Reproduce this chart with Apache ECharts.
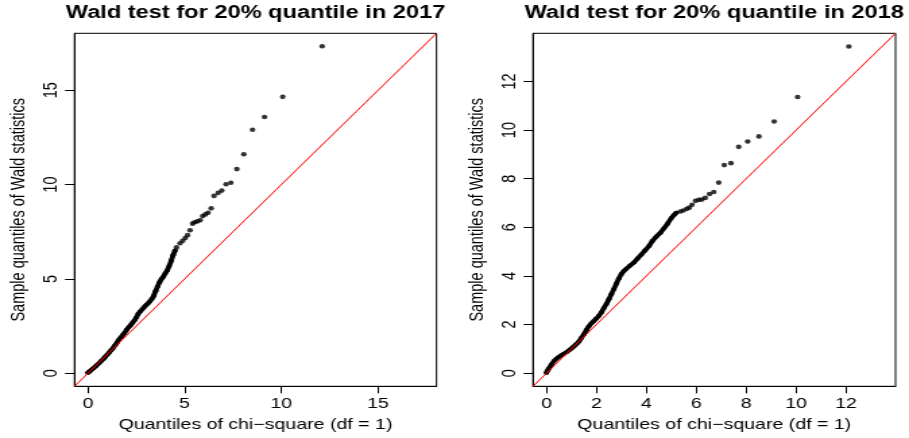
<!DOCTYPE html>
<html><head><meta charset="utf-8">
<script src="https://cdn.jsdelivr.net/npm/echarts@6/dist/echarts.min.js"></script>
<style>
html,body{margin:0;padding:0;background:#fff;overflow:hidden;}
#wrap{width:909px;height:438px;overflow:hidden;}
#chart{width:674px;height:438px;transform:scaleX(1.348665);transform-origin:0 0;}
</style></head><body><div id="wrap"><div id="chart"></div></div>
<script>
// ---- data ----
const titles = ["Wald test for 20% quantile in 2017", "Wald test for 20% quantile in 2018"];
const xName = "Quantiles of chi\u2212square (df = 1)";
const yName = "Sample quantiles of Wald statistics";
const leftTicks = [0, 5, 10, 15];
const rightTicks = [0, 2, 4, 6, 8, 10, 12];
const leftRange = [-0.693, 18.02];
const rightRange = [-0.538, 13.98];

// 2017 panel: theoretical quantiles (x) and sample quantiles (y)
const leftX = [0.00,0.05,0.1,0.2,0.3,0.4,0.5,0.6,0.7,0.8,0.9,1.0,1.1,1.2,1.3,1.4,1.5,1.6,1.7,1.8,1.9,2.0,2.1,2.2,2.3,2.4,2.5,2.6,2.7,2.8,2.9,3.0,3.1,3.2,3.3,3.4,3.5,3.6,3.7,3.8,3.9,4.0,4.1,4.2,4.3,4.4,4.5,
  4.58,4.76,4.90,5.03,5.15,5.28,5.41,5.52,5.66,5.80,5.93,6.07,6.21,6.37,6.52,6.73,6.92,7.14,7.39,7.70,8.06,8.51,9.13,10.07,12.11];
const leftY = [0.02,0.06,0.1,0.2,0.28,0.37,0.46,0.56,0.66,0.76,0.88,0.98,1.1,1.22,1.34,1.48,1.62,1.78,1.9,2.02,2.15,2.3,2.42,2.54,2.66,2.8,2.95,3.15,3.27,3.38,3.5,3.6,3.7,3.8,3.93,4.1,4.35,4.6,4.82,5.0,5.12,5.3,5.45,5.68,5.95,6.25,6.5,
  6.67,6.89,7.02,7.17,7.32,7.58,7.93,8.00,8.05,8.11,8.33,8.42,8.51,8.74,9.40,9.56,9.68,10.02,10.10,10.82,11.61,12.91,13.58,14.65,17.33];
const leftDenseCount = 47;

// 2018 panel
const rightX = [0.00,0.05,0.1,0.2,0.3,0.4,0.5,0.6,0.7,0.8,0.9,1.0,1.1,1.2,1.3,1.4,1.5,1.6,1.7,1.8,1.9,2.0,2.1,2.2,2.3,2.4,2.5,2.6,2.7,2.8,2.9,3.0,3.1,3.2,3.35,3.5,3.65,3.8,3.95,4.1,4.25,4.4,4.55,4.7,4.85,5.0,5.1,5.2,
  5.36,5.48,5.62,5.72,5.83,5.97,6.10,6.22,6.36,6.53,6.70,6.90,7.12,7.39,7.70,8.06,8.51,9.12,10.06,12.11];
const rightY = [0.02,0.12,0.2,0.36,0.5,0.6,0.68,0.74,0.8,0.86,0.93,1.02,1.1,1.2,1.3,1.45,1.6,1.78,1.93,2.05,2.15,2.25,2.36,2.5,2.68,2.85,3.04,3.25,3.46,3.68,3.9,4.08,4.2,4.3,4.43,4.55,4.72,4.88,5.05,5.22,5.45,5.62,5.76,5.95,6.15,6.38,6.5,6.6,
  6.65,6.69,6.76,6.81,6.93,7.09,7.13,7.14,7.21,7.37,7.45,7.84,8.56,8.64,9.31,9.53,9.74,10.35,11.36,13.44];
const rightDenseCount = 48;

// ---- chart ----
const S = 909 / 674;
const FONT = "Liberation Sans, Arial, Helvetica, sans-serif";
function pairs(xs, ys, a, b) { const out = []; for (let i = a; i < b; i++) out.push([xs[i], ys[i]]); return out; }

function axisX(idx, range, ticks) {
  return {
    type: 'value', gridIndex: idx, min: range[0], max: range[1], position: 'bottom',
    axisLine: { show: true, onZero: false, lineStyle: { color: '#000', width: 1 } },
    axisTick: { show: true, customValues: ticks, length: 7, lineStyle: { color: '#000', width: 1 } },
    axisLabel: { customValues: ticks, fontSize: 14.5, color: '#000', fontFamily: FONT, margin: 10 },
    splitLine: { show: false },
    name: xName, nameLocation: 'middle', nameGap: 31,
    nameTextStyle: { fontSize: 14.5, color: '#000', fontFamily: FONT }
  };
}
function axisY(idx, range, ticks) {
  return {
    type: 'value', gridIndex: idx, min: range[0], max: range[1], position: 'left',
    axisLine: { show: true, onZero: false, lineStyle: { color: '#000', width: 1 } },
    axisTick: { show: true, customValues: ticks, length: 7, lineStyle: { color: '#000', width: 1 } },
    axisLabel: { customValues: ticks, fontSize: 14.5, color: '#000', fontFamily: FONT, margin: 10, rotate: 90 },
    splitLine: { show: false },
    name: yName, nameLocation: 'middle', nameGap: 34,
    nameTextStyle: { fontSize: 14.5, color: '#000', fontFamily: FONT }
  };
}
function panelSeries(idx, xs, ys, dense, range) {
  return [
    { type: 'line', xAxisIndex: idx, yAxisIndex: idx, data: pairs(xs, ys, 0, dense),
      symbol: 'circle', symbolSize: 4, showSymbol: true, itemStyle: { color: '#000' },
      lineStyle: { color: '#000', width: 3.8, cap: 'round', join: 'round' }, z: 2, silent: true, animation: false },
    { type: 'scatter', xAxisIndex: idx, yAxisIndex: idx, data: pairs(xs, ys, dense, xs.length),
      symbol: 'circle', symbolSize: [4.2, 4.6], itemStyle: { color: '#000' }, z: 2, silent: true, animation: false },
    { type: 'line', xAxisIndex: idx, yAxisIndex: idx, data: [[range[0], range[0]], [range[1], range[1]]],
      symbol: 'none', lineStyle: { color: '#ff0000', width: 1 }, z: 3, silent: true, animation: false }
  ];
}

const chart = echarts.init(document.getElementById('chart'));
chart.setOption({
  backgroundColor: '#fff',
  animation: false,
  title: [
    { text: titles[0], left: (74.5 + 362 / 2) / S, top: 4, textAlign: 'center', textVerticalAlign: 'top', padding: 0,
      textStyle: { fontSize: 17.5, fontWeight: 'bold', color: '#000', fontFamily: FONT } },
    { text: titles[1], left: (533 + 362.5 / 2) / S, top: 4, textAlign: 'center', textVerticalAlign: 'top', padding: 0,
      textStyle: { fontSize: 17.5, fontWeight: 'bold', color: '#000', fontFamily: FONT } }
  ],
  grid: [
    { left: 74.5 / S, top: 33.3, width: 362 / S, height: 353, show: true, borderColor: '#000', borderWidth: 1, backgroundColor: 'transparent' },
    { left: 533 / S, top: 33.3, width: 362.5 / S, height: 353, show: true, borderColor: '#000', borderWidth: 1, backgroundColor: 'transparent' }
  ],
  xAxis: [axisX(0, leftRange, leftTicks), axisX(1, rightRange, rightTicks)],
  yAxis: [axisY(0, leftRange, leftTicks), axisY(1, rightRange, rightTicks)],
  series: [].concat(panelSeries(0, leftX, leftY, leftDenseCount, leftRange),
                    panelSeries(1, rightX, rightY, rightDenseCount, rightRange))
});
</script></body></html>
